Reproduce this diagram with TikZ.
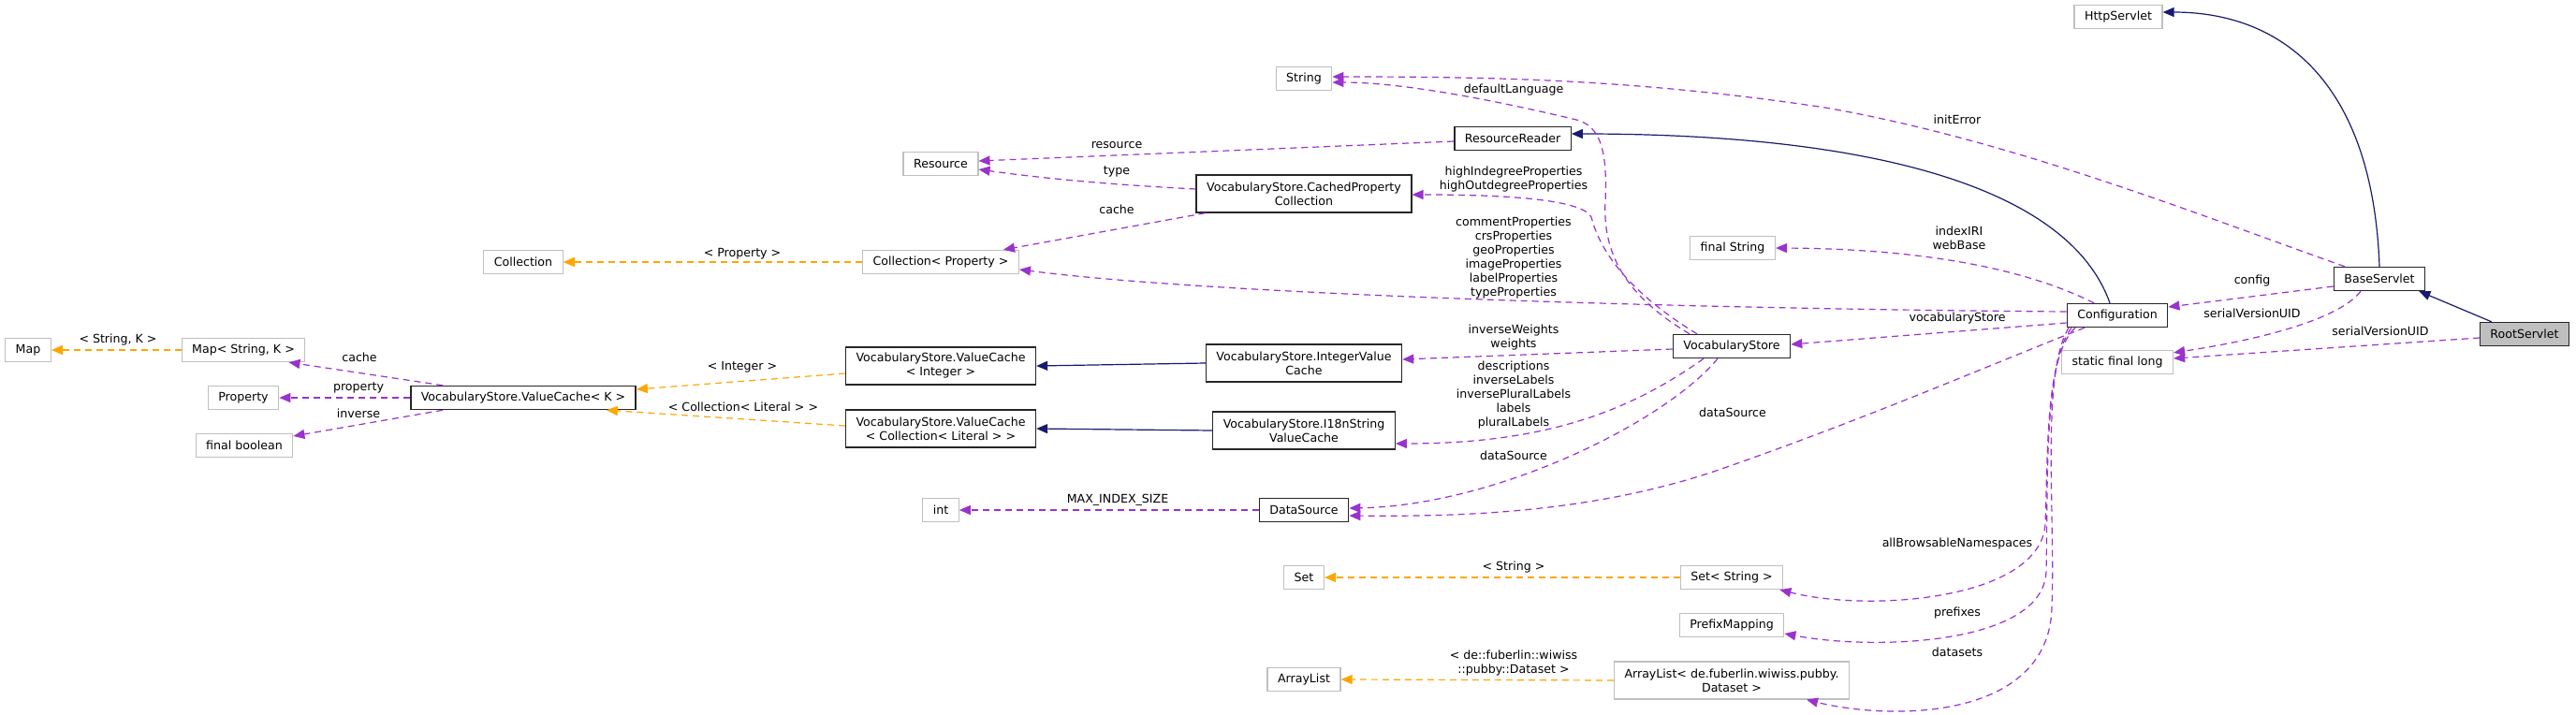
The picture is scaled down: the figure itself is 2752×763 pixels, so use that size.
\documentclass[tikz,border=0pt]{standalone}
\usepackage{fontspec}
\setmainfont{DejaVu Sans}
\usetikzlibrary{arrows.meta}
\definecolor{midnight}{HTML}{191970}
\definecolor{orchid}{HTML}{9A32CD}
\definecolor{amber}{HTML}{FFA500}

\begin{document}
\begin{tikzpicture}[x=1pt,y=-1pt,
        font=\fontsize{12.6}{15}\selectfont,
        cls/.style={draw=black!85,line width=1.4pt,fill=white,inner xsep=11pt,
            inner ysep=0pt,minimum height=25pt,align=center},
        ext/.style={cls,draw=black!25,line width=1.3pt},
        two/.style={minimum height=40pt},
        lbl/.style={inner sep=0pt,align=center},
        inher/.style={draw=midnight,line width=1.2pt,-{Triangle[length=12pt,width=10pt]}},
        member/.style={draw=orchid,line width=1.2pt,dash pattern=on 7pt off 5pt,
            -{Triangle[length=12pt,width=10pt]}},
        templ/.style={member,draw=amber}]
\fill[white] (0,0) rectangle (2752,763);
\useasboundingbox (0,0) rectangle (2752,763);

\node[ext] (httpservlet) at (2263,18) {HttpServlet};
\node[ext] (string) at (1393,84) {String};
\node[cls] (resreader) at (1616,148) {ResourceReader};
\node[ext] (resource) at (1005,175) {Resource};
\node[cls,two] (cachedprop) at (1393,207) {VocabularyStore.CachedProperty\\Collection};
\node[ext] (finalstring) at (1851,265) {final String};
\node[ext] (collection) at (559,280) {Collection};
\node[ext] (collprop) at (1005,280) {Collection< Property >};
\node[cls] (baseservlet) at (2542,298) {BaseServlet};
\node[cls] (config) at (2262,337) {Configuration};
\node[cls,fill=black!25] (rootservlet) at (2697,357) {RootServlet};
\node[ext] (sfl) at (2262,387) {static final long};
\node[cls] (vocstore) at (1850,370) {VocabularyStore};
\node[ext] (map) at (30,374) {Map};
\node[ext] (mapsk) at (260,374) {Map< String, K >};
\node[ext] (property) at (260,425) {Property};
\node[ext] (finalbool) at (261,476) {final boolean};
\node[cls] (valcache) at (559,425) {VocabularyStore.ValueCache< K >};
\node[cls,two] (vcint) at (1005,391) {VocabularyStore.ValueCache\\< Integer >};
\node[cls,two] (vccoll) at (1005,458) {VocabularyStore.ValueCache\\< Collection< Literal > >};
\node[cls,two] (intvc) at (1393,388) {VocabularyStore.IntegerValue\\Cache};
\node[cls,two] (i18nvc) at (1393,460) {VocabularyStore.I18nString\\ValueCache};
\node[ext] (int) at (1005,545) {int};
\node[cls] (datasource) at (1393,545) {DataSource};
\node[ext] (set) at (1393,617) {Set};
\node[ext] (setstring) at (1850,617) {Set< String >};
\node[ext] (prefixmap) at (1850,668) {PrefixMapping};
\node[ext] (arraylist) at (1393,726) {ArrayList};
\node[ext,two] (arrdataset) at (1850,727) {ArrayList< de.fuberlin.wiwiss.pubby.\\Dataset >};

% inheritance
\draw[inher] ([xshift=13pt]rootservlet.north west) -- ([xshift=-7pt]baseservlet.south east);
\draw[inher] (baseservlet.north) .. controls (2535,90) and (2440,13) .. ([yshift=5pt]httpservlet.east);
\draw[inher] ([xshift=-8pt]config.north) .. controls (2210,200) and (2000,143) .. ([yshift=5pt]resreader.east);
\draw[inher] (intvc.west) -- (vcint.east);
\draw[inher] (i18nvc.west) -- (vccoll.east);

% members
\draw[member] ([yshift=-4pt]rootservlet.west) -- ([yshift=4pt]sfl.east);
\draw[member] ([xshift=-20pt]baseservlet.south) .. controls (2500,340) and (2420,362) .. ([yshift=-3pt]sfl.north east);
\draw[member] ([yshift=-8pt]baseservlet.west) -- ([yshift=9pt]config.east);
\draw[member] ([xshift=-37pt]baseservlet.north) .. controls (2350,230) and (2150,150) .. (1950,115)
    .. controls (1750,85) and (1600,82) .. ([yshift=2pt]string.east);
\draw[member] ([xshift=-25pt]config.north) .. controls (2180,295) and (2080,266) .. (finalstring.east);
\draw[member] ([yshift=4pt]config.west) .. controls (1800,330) and (1300,315) .. ([yshift=-8pt]collprop.east);
\draw[member] ([yshift=-8pt]config.west) -- ([yshift=2pt]vocstore.east);
\draw[member] ([xshift=-35pt]config.south) .. controls (2150,380) and (2000,445) .. (1842,500)
    .. controls (1700,550) and (1550,552) .. ([yshift=-6pt]datasource.east);
\draw[member] ([xshift=-45pt]config.south) .. controls (2185,380) and (2188,480) .. (2185,560)
    .. controls (2180,640) and (2000,655) .. ([xshift=-4pt]setstring.south east);
\draw[member] ([xshift=-49pt]config.south) .. controls (2183,390) and (2188,520) .. (2186,610)
    .. controls (2184,690) and (2000,695) .. ([yshift=-9pt]prefixmap.east);
\draw[member] ([xshift=-52pt]config.south) .. controls (2180,400) and (2196,550) .. (2192,650)
    .. controls (2188,770) and (2020,770) .. ([xshift=80pt]arrdataset.south);
\draw[member] ([xshift=-45pt]vocstore.north) .. controls (1735,315) and (1712,270) .. (1715,215)
    .. controls (1718,150) and (1705,132) .. (1680,127)
    .. controls (1600,108) and (1500,88) .. ([yshift=-4pt]string.east);
\draw[member] ([xshift=-37pt]vocstore.north) .. controls (1720,300) and (1705,250) .. (1700,232)
    .. controls (1690,212) and (1600,208) .. ([yshift=-1pt]cachedprop.east);
\draw[member] ([yshift=-3pt]vocstore.west) -- ([yshift=4pt]intvc.east);
\draw[member] ([xshift=-30pt]vocstore.south) .. controls (1740,440) and (1650,474) .. ([yshift=-14pt]i18nvc.east);
\draw[member] ([xshift=-15pt]vocstore.south) .. controls (1780,450) and (1600,540) .. ([yshift=2pt]datasource.east);
\draw[member] ([yshift=-3pt]resreader.west) -- ([yshift=3pt]resource.east);
\draw[member] ([yshift=5pt]cachedprop.west) .. controls (1180,197) and (1110,190) .. ([yshift=-6pt]resource.east);
\draw[member] ([xshift=10pt]cachedprop.south west) -- ([xshift=-17pt]collprop.north east);
\draw[member] (datasource.west) -- (int.east);
\draw[member] ([xshift=35pt]valcache.north west) -- ([xshift=-18pt]mapsk.south east);
\draw[member] (valcache.west) -- (property.east);
\draw[member] ([xshift=35pt]valcache.south west) -- ([yshift=10pt]finalbool.east);

% template instances
\draw[templ] (mapsk.west) -- (map.east);
\draw[templ] (collprop.west) -- (collection.east);
\draw[templ] ([yshift=-8pt]vcint.west) -- ([yshift=9pt]valcache.east);
\draw[templ] ([yshift=3pt]vccoll.west) -- ([xshift=-32pt]valcache.south east);
\draw[templ] (setstring.west) -- (set.east);
\draw[templ] (arrdataset.west) -- (arraylist.east);

\node[lbl] (l-rootsvu) at (2543,354) {serialVersionUID};
\node[lbl] (l-basesvu) at (2406,335) {serialVersionUID};
\node[lbl] (l-config) at (2406,300) {config};
\node[lbl] (l-initerror) at (2091,128) {initError};
\node[lbl] (l-indexiri) at (2093,254) {indexIRI\\webBase};
\node[lbl] (l-props) at (1617,275.5) {commentProperties\\crsProperties\\geoProperties\\imageProperties\\labelProperties\\typeProperties};
\node[lbl] (l-vocstore) at (2091,340) {vocabularyStore};
\node[lbl] (l-dsconf) at (1851,441) {dataSource};
\node[lbl] (l-allbrowse) at (2091,581) {allBrowsableNamespaces};
\node[lbl] (l-prefixes) at (2091,655) {prefixes};
\node[lbl] (l-datasets) at (2091,697) {datasets};
\node[lbl] (l-deflang) at (1617,96) {defaultLanguage};
\node[lbl] (l-high) at (1617,191.5) {highIndegreeProperties\\highOutdegreeProperties};
\node[lbl] (l-weights) at (1617,360.5) {inverseWeights\\weights};
\node[lbl] (l-labels) at (1617,422) {descriptions\\inverseLabels\\inversePluralLabels\\labels\\pluralLabels};
\node[lbl] (l-dsvoc) at (1617,487) {dataSource};
\node[lbl] (l-resource) at (1193,155) {resource};
\node[lbl] (l-type) at (1193,183) {type};
\node[lbl] (l-cache) at (1193,224) {cache};
\node[lbl] (l-maxidx) at (1194,534) {MAX\_INDEX\_SIZE};
\node[lbl] (l-mapcache) at (384,382) {cache};
\node[lbl] (l-property) at (383,414) {property};
\node[lbl] (l-inverse) at (383,442) {inverse};
\node[lbl] (l-stringk) at (126,363) {< String, K >};
\node[lbl] (l-propt) at (793,271) {< Property >};
\node[lbl] (l-integer) at (793,392) {< Integer >};
\node[lbl] (l-literal) at (794,435) {< Collection< Literal > >};
\node[lbl] (l-stringt) at (1617,606) {< String >};
\node[lbl] (l-datasett) at (1617,709) {< de::fuberlin::wiwiss\\::pubby::Dataset >};

\end{tikzpicture}
\end{document}
